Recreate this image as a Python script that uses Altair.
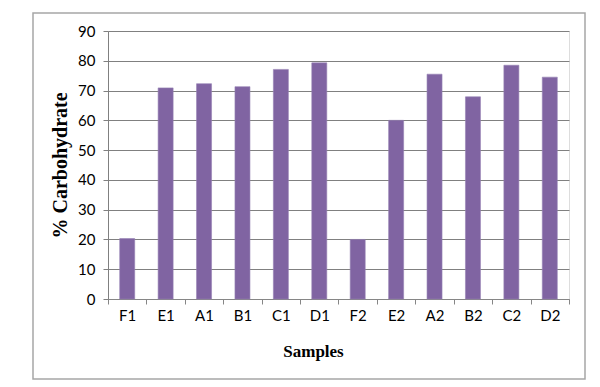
import altair as alt
import pandas as pd

samples = ["F1", "E1", "A1", "B1", "C1", "D1", "F2", "E2", "A2", "B2", "C2", "D2"]
carbohydrate = [20.3, 70.9, 72.3, 71.3, 77.1, 79.3, 20.0, 60.0, 75.5, 67.9, 78.5, 74.5]
y_ticks = [0, 10, 20, 30, 40, 50, 60, 70, 80, 90]

df = pd.DataFrame({"Samples": samples, "Carb": carbohydrate})

W, H = 461, 268

bars = alt.Chart(df).mark_bar(size=15, color="#8064A2", stroke="#9682B4", strokeWidth=0.6).encode(
    x=alt.X("Samples:N", sort=samples,
            scale=alt.Scale(paddingInner=0, paddingOuter=0),
            axis=alt.Axis(title="Samples", labelAngle=0, tickBand="extent",
                          tickSize=5, tickColor="#868686", domainColor="#868686",
                          labelFont="Lato", labelFontSize=15, labelColor="#000000",
                          labelPadding=4,
                          titleFont="Liberation Serif", titleFontWeight="bold",
                          titleFontSize=17, titleColor="#000000",
                          titleX=205, titleAnchor="middle", titleBaseline="alphabetic",
                          titleY=57)),
    y=alt.Y("Carb:Q",
            scale=alt.Scale(domain=[0, 90], nice=False),
            axis=alt.Axis(title="% Carbohydrate", values=y_ticks, grid=True,
                          gridColor="#808080", gridWidth=1, tickSize=5,
                          tickColor="#808080", domainColor="#808080",
                          labelFont="Lato", labelFontSize=15, labelColor="#000000",
                          labelPadding=8,
                          titleFont="Liberation Serif", titleFontWeight="bold",
                          titleFontSize=20, titleColor="#000000", titlePadding=7)),
)

border = alt.Chart(alt.Data(values=[{"a": 1}])).mark_rect(
    fill="transparent", stroke="#A6A6A6", strokeWidth=1.5, clip=False
).encode(
    x=alt.value(-75), x2=alt.value(477), y=alt.value(-18), y2=alt.value(348)
)

chart = alt.layer(border, bars).properties(
    width=W, height=H,
    padding={"left": 100, "top": 23, "right": 21, "bottom": 81},
    autosize=alt.AutoSizeParams(type="none"),
).configure_view(stroke=None).configure(background="#ffffff")

chart.save("out.html", embed_options={"renderer": "svg", "actions": False})
